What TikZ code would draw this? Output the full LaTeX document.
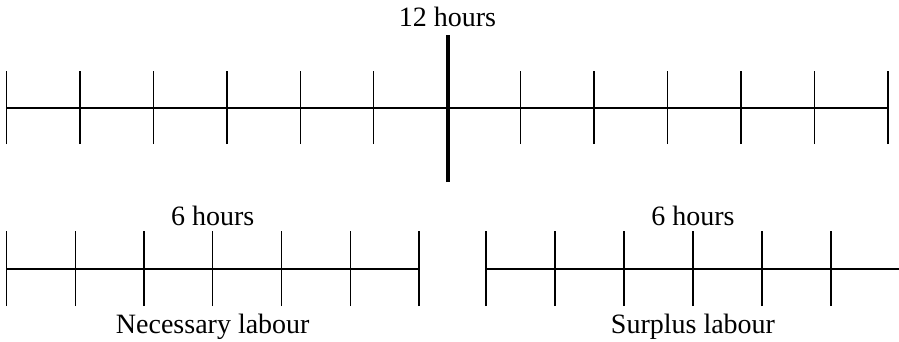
\documentclass[tikz,border=0pt]{standalone}
\usepackage{fontspec}
\setmainfont{Liberation Serif}
\usepackage{tikz}
\usetikzlibrary{positioning}

\begin{document}
\begin{tikzpicture}[
    x=1pt, y=1pt,
    font=\fontsize{28}{33}\selectfont,
    barline/.style={line width=1.3pt, draw=black},
    tickline/.style={line width=1.3pt, draw=black},
    splitline/.style={line width=4pt, draw=black},
    caption/.style={anchor=base, inner sep=0pt}
]
\useasboundingbox (0,0) rectangle (899,341);
% whole working day
\coordinate (dayL) at (6.5,233);
\coordinate (dayR) at (888,233);
\draw[barline] (dayL) -- (dayR);
\foreach \i in {0,...,5,7,8,...,12}
  \draw[tickline] ({6.5+73.45*\i},197) -- ({6.5+73.45*\i},270);
\draw[splitline] (447.5,159) -- (447.5,306);
\node[caption] (whole) at (447.5,314) {12 hours};
% necessary labour
\coordinate (necL) at (6.5,72);
\coordinate (necR) at (419,72);
\draw[barline] (necL) -- (necR);
\foreach \i in {0,...,6}
  \draw[tickline] ({6.5+68.75*\i},35) -- ({6.5+68.75*\i},110);
\node[caption] (necHrs) at (212.75,116) {6 hours};
\node[caption] (necLab) at (212.75,8) {Necessary labour};
% surplus labour
\coordinate (surL) at (486,72);
\coordinate (surR) at (899,72);
\draw[barline] (surL) -- (surR);
\foreach \i in {0,...,5}
  \draw[tickline] ({486+69*\i},35) -- ({486+69*\i},110);
\node[caption] (surHrs) at (693,116) {6 hours};
\node[caption] (surLab) at (693,8) {Surplus labour};
\end{tikzpicture}
\end{document}
